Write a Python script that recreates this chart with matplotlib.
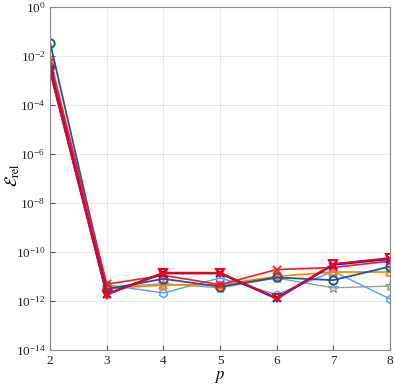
import matplotlib
matplotlib.use("Agg")
import matplotlib.pyplot as plt
import numpy as np

plt.rcParams['font.family'] = ['Liberation Serif', 'DejaVu Serif']
plt.rcParams['mathtext.fontset'] = 'stix'

p = [2, 3, 4, 5, 6, 7, 8]

# relative errors
err_hex = [4.0e-3, 4.5e-12, 2.1e-12, 8.6e-12, 1.8e-12, 1.6e-11, 1.2e-12]
err_star = [4.2e-3, 3.6e-12, 5.0e-12, 3.4e-12, 8.5e-12, 3.4e-12, 4.0e-12]
err_tri = [7.5e-3, 3.2e-12, 4.4e-12, 4.6e-12, 1.0e-11, 1.5e-11, 1.5e-11]
err_circ = [3.4e-2, 3.0e-12, 7.9e-12, 3.8e-12, 9.0e-12, 7.0e-12, 2.5e-11]
err_x = [5.7e-3, 4.8e-12, 1.1e-11, 4.6e-12, 1.9e-11, 2.3e-11, 4.2e-11]
err_blue = [2.7e-3, 1.9e-12, 1.35e-11, 1.35e-11, 1.25e-12, 3.0e-11, 5.2e-11]
err_v = [2.3e-3, 1.8e-12, 1.4e-11, 1.4e-11, 1.3e-12, 3.2e-11, 5.6e-11]

fig = plt.figure(figsize=(3.95, 3.84), dpi=100)
ax = fig.add_axes([0.127, 0.089, 0.86, 0.893])

ax.semilogy(p, err_hex, '-h', color='#4d9bff', lw=1.0, ms=6, mfc='none', mew=1.0)
ax.semilogy(p, err_star, '-*', color='#999999', lw=1.0, ms=7, mfc='none', mew=1.0)
ax.semilogy(p, err_tri, '-^', color='#ff8000', lw=1.2, ms=6, mfc='none', mew=1.2)
ax.semilogy(p, err_circ, '-o', color='#24529b', lw=1.3, ms=6, mfc='none', mew=1.4)
ax.semilogy(p, err_x, '-x', color='#ff1a1a', lw=1.2, ms=6, mew=1.3)
ax.semilogy(p, err_blue, '-x', color='#1a1aff', lw=1.8, ms=6, mew=1.5)
ax.semilogy(p, err_v, '-v', color='#ff0000', lw=1.3, ms=6, mfc='none', mew=1.5)

ax.set_xlim(2, 8)
ax.set_ylim(1e-14, 1)
ax.set_xticks(p)
ax.set_yticks([10.0**k for k in range(-14, 1, 2)])
ax.grid(True, which='major', color='#e6e6e6', lw=0.6)
ax.grid(True, which='minor', color='#eeeeee', lw=0.5, ls=':')
ax.tick_params(which='both', direction='in', colors='#555555', labelcolor='#222222', labelsize=9.5)
ax.tick_params(which='minor', length=2)
ax.tick_params(axis='x', pad=4)
for s in ax.spines.values():
    s.set_color('#888888')
    s.set_linewidth(0.8)

ax.set_xlabel('$p$', fontsize=12, va='center')
ax.set_ylabel(r'$\mathcal{E}_{\mathrm{rel}}$', fontsize=12, va='center')
ax.xaxis.set_label_coords(0.5, -0.078)
ax.yaxis.set_label_coords(-0.11, 0.51)

fig.savefig('out.png', dpi=100)
